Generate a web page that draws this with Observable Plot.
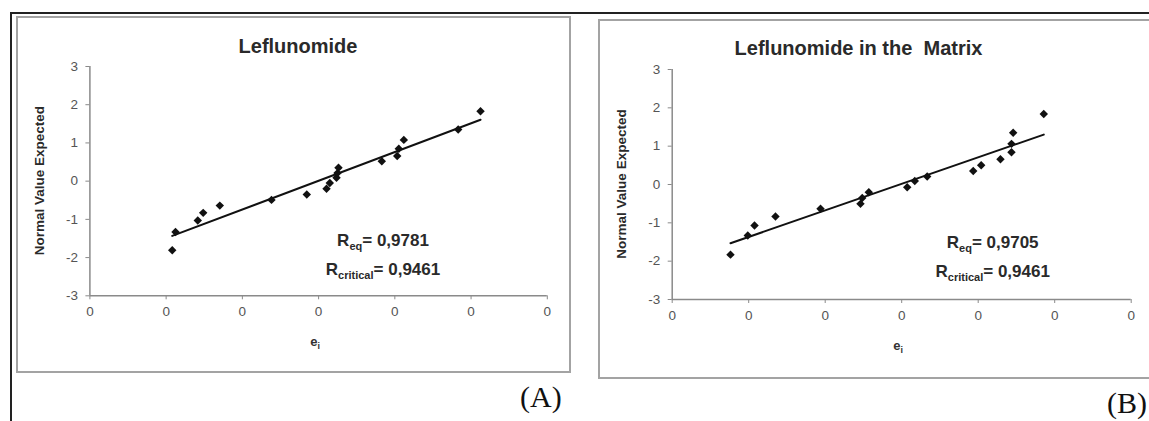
<!DOCTYPE html>
<html><head><meta charset="utf-8">
<script src="https://cdn.jsdelivr.net/npm/d3@7"></script>
<script src="https://cdn.jsdelivr.net/npm/@observablehq/plot@0.6"></script>
<style>
body{margin:0;background:#fff;}
#wrap{position:relative;width:1149px;height:421px;overflow:hidden;background:#fff;font-family:"Liberation Sans",Arial,sans-serif;}
.box{position:absolute;border:2px solid #a3a3a3;box-sizing:border-box;}
.line{position:absolute;background:#222;}
.tag{position:absolute;font-family:"Liberation Serif","Times New Roman",serif;font-size:30px;line-height:1;color:#111;white-space:nowrap;}
.panel{position:absolute;top:0;}
</style></head><body>
<div id="wrap">
  <div class="line" style="left:10px;top:12px;width:1139px;height:2px"></div>
  <div class="line" style="left:10px;top:12px;width:2px;height:409px"></div>
  <div class="box" style="left:16px;top:16px;width:555px;height:357px"></div>
  <div class="box" style="left:598px;top:19px;width:570px;height:360px"></div>
  <div id="tagA" class="tag" style="left:520px;top:382px"></div>
  <div id="tagB" class="tag" style="left:1107px;top:388px"></div>
  <div id="panelA" class="panel" style="left:0px"></div>
  <div id="panelB" class="panel" style="left:580px"></div>
</div>
<script>
// ---- data ----
const xTicks = [0, 1, 2, 3, 4, 5, 6];
const xTickLabels = ["0", "0", "0", "0", "0", "0", "0"];
const yTicks = [-3, -2, -1, 0, 1, 2, 3];
const yTickLabels = ["-3", "-2", "-1", "0", "1", "2", "3"];

const residA   = [1.080, 1.123, 1.415, 1.486, 1.704, 2.382, 2.845, 3.104, 3.147, 3.235, 3.248, 3.261, 3.829, 4.031, 4.052, 4.118, 4.831, 5.124];
const expectedA = [-1.81, -1.33, -1.03, -0.83, -0.64, -0.49, -0.35, -0.20, -0.05, 0.09, 0.21, 0.35, 0.52, 0.66, 0.85, 1.08, 1.35, 1.83];

const residB   = [0.762, 0.988, 1.076, 1.350, 1.939, 2.461, 2.484, 2.570, 3.072, 3.171, 3.333, 3.935, 4.039, 4.291, 4.435, 4.435, 4.457, 4.857];
const expectedB = [-1.83, -1.33, -1.07, -0.835, -0.635, -0.505, -0.35, -0.20, -0.07, 0.09, 0.21, 0.35, 0.50, 0.66, 0.84, 1.06, 1.35, 1.84];

const titles = ["Leflunomide", "Leflunomide in the  Matrix"];
const yLabel = "Normal Value Expected";
const xLabelMain = "e";
const xLabelSub = "i";
const rEqValues = ["0,9781", "0,9705"];
const rCriticalValues = ["0,9461", "0,9461"];
const panelTags = ["(A)", "(B)"];

// ---- drawing ----
const FONT = "Liberation Sans, Arial, sans-serif";

function makePanel(cfg) {
  const data = cfg.xs.map((x, i) => ({x, y: cfg.ys[i]}));
  const chart = Plot.plot({
    width: cfg.width, height: 421,
    marginLeft: cfg.ml, marginRight: cfg.mr, marginTop: cfg.mt, marginBottom: cfg.mb,
    style: {background: "transparent", fontFamily: FONT, fontSize: "13.5px", overflow: "visible"},
    x: {domain: [0, 6]},
    y: {domain: [-3, 3]},
    marks: [
      Plot.axisX({ticks: xTicks, tickFormat: d => xTickLabels[xTicks.indexOf(d)], tickSize: 4, tickPadding: 7,
                  stroke: "#8a8a8a", fill: "#555", label: null}),
      Plot.axisY({ticks: yTicks, tickFormat: d => yTickLabels[yTicks.indexOf(d)], tickSize: 4, tickPadding: 8,
                  stroke: "#8a8a8a", fill: "#555", label: null}),
      Plot.ruleX([0], {stroke: "#8a8a8a", strokeWidth: 1.5}),
      Plot.ruleY([-3], {stroke: "#8a8a8a", strokeWidth: 1.5}),
      Plot.linearRegressionY(data, {x: "x", y: "y", ci: 0, stroke: "#111", strokeWidth: 2}),
      Plot.dot(data, {x: "x", y: "y", symbol: "diamond2", r: 3.8, fill: "#111", stroke: "none"})
    ]
  });

  const svg = d3.select(chart);
  const sx = chart.scale("x"), sy = chart.scale("y");
  const x0 = sx.apply(0), x6 = sx.apply(6), ymid = (sy.apply(3) + sy.apply(-3)) / 2;

  // title
  svg.append("text")
    .attr("x", cfg.titleX).attr("y", cfg.titleY)
    .attr("text-anchor", "middle")
    .style("font-family", FONT).style("font-size", "20px").style("font-weight", "bold")
    .style("white-space", "pre").attr("xml:space", "preserve")
    .attr("fill", "#2a2a2a")
    .text(cfg.title);

  // y label
  svg.append("text")
    .attr("transform", `translate(${x0 - 50},${ymid}) rotate(-90)`)
    .attr("text-anchor", "middle").attr("dominant-baseline", "central")
    .style("font-family", FONT).style("font-size", "13.5px").style("font-weight", "bold")
    .attr("fill", "#2a2a2a")
    .text(yLabel);

  // x label e_i
  const xl = svg.append("text")
    .attr("x", (x0 + x6) / 2 - 3).attr("y", cfg.xLabelY)
    .attr("text-anchor", "middle")
    .style("font-family", FONT).style("font-weight", "bold").attr("fill", "#333");
  xl.append("tspan").style("font-size", "13px").text(xLabelMain);
  xl.append("tspan").attr("dy", 3).style("font-size", "9px").text(xLabelSub);

  // R annotations
  function rText(y, sub, value) {
    const t = svg.append("text")
      .attr("x", cfg.rX).attr("y", y)
      .style("font-family", FONT).style("font-weight", "bold").attr("fill", "#2a2a2a");
    t.append("tspan").style("font-size", "17px").text("R");
    t.append("tspan").attr("dy", 4).style("font-size", "11px").text(sub);
    t.append("tspan").attr("dy", -4).style("font-size", "17px").text("= " + value);
  }
  rText(cfg.rY1, "eq", cfg.rEq);
  rText(cfg.rY2, "critical", cfg.rCrit);

  return chart;
}

document.getElementById("panelA").appendChild(makePanel({
  xs: residA, ys: expectedA, width: 580,
  ml: 89.4, mr: 580 - 546.8, mt: 66, mb: 421 - 295.3,
  title: titles[0], titleX: 298, titleY: 53,
  xLabelY: 346, rX: 383, rY1: 246, rY2: 275,
  rEq: rEqValues[0], rCrit: rCriticalValues[0]
}));

document.getElementById("panelB").appendChild(makePanel({
  xs: residB, ys: expectedB, width: 569,
  ml: 671.7 - 580, mr: 1149 - 1130.7, mt: 69, mb: 421 - 299,
  title: titles[1], titleX: 858.5 - 580, titleY: 55,
  xLabelY: 350, rX: 992.7 - 580, rY1: 248, rY2: 277,
  rEq: rEqValues[1], rCrit: rCriticalValues[1]
}));

document.getElementById("tagA").textContent = panelTags[0];
document.getElementById("tagB").textContent = panelTags[1];
</script>
</body></html>
